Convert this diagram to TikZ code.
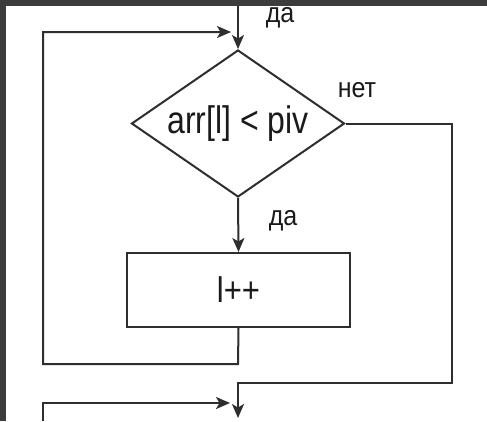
\documentclass[tikz,border=0pt]{standalone}
\usepackage{fontspec}
\setmainfont{Liberation Sans}
\usetikzlibrary{shapes.geometric,arrows.meta}
\definecolor{frame}{HTML}{3C3C3C}
\definecolor{ink}{HTML}{2E2E2E}
\definecolor{txt}{HTML}{1A1A1A}
\begin{document}
\begin{tikzpicture}[x=1pt,y=-1pt,
  flow/.style={draw=ink, line width=2pt},
  arr/.style={flow, -{Stealth[length=14pt,width=12pt,inset=3.5pt]}},
  lbl/.style={font=\fontsize{25}{28}\selectfont, text=txt, inner sep=0pt, anchor=base},
  decision/.style={diamond, draw=ink, line width=2pt, fill=white, inner sep=0pt,
    minimum width=213pt, minimum height=147pt, aspect=1.45, text=txt,
    font=\fontsize{32}{36}\selectfont},
  process/.style={rectangle, draw=ink, line width=2pt, fill=white, inner sep=0pt,
    minimum width=223pt, minimum height=74pt, text=txt,
    font=\fontsize{31}{36}\selectfont}]
\useasboundingbox (0,0) rectangle (487,421);
\fill[frame] (0,0) rectangle (487,421);
\fill[white] (6,6) rectangle (487,421);

% nodes
\node[decision] (cond) at (238,123.5) {\raisebox{3pt}{\scalebox{1}[1.2]{arr[l] < piv}}};
\node[process] (inc) at (238.5,290) {\raisebox{1pt}{\scalebox{1}[1.15]{l++}}};

\coordinate (topin) at (238,6);
\coordinate (loopend) at (231,32);
\coordinate (botend) at (238,418);
\coordinate (bl) at (43,421);
\coordinate (blend) at (230,403);

% connectors
\draw[arr] (topin) -- (cond.north);
\draw[arr] (cond.south) -- (inc.north);
\draw[arr] (inc.south) -- (238,364) -- (43,364) -- (43,32) -- (loopend);
\draw[arr] (cond.east) -- (452,123.5) -- (452,383) -- (238,383) -- (botend);
\draw[arr] (bl) -- (43,403) -- (blend);

% labels
\node[lbl] (yes1) at (280,22) {\scalebox{1}[1.12]{да}};
\node[lbl] (no) at (357,97) {\scalebox{1}[1.12]{нет}};
\node[lbl] (yes2) at (283,225) {\scalebox{1}[1.12]{да}};
\end{tikzpicture}
\end{document}
